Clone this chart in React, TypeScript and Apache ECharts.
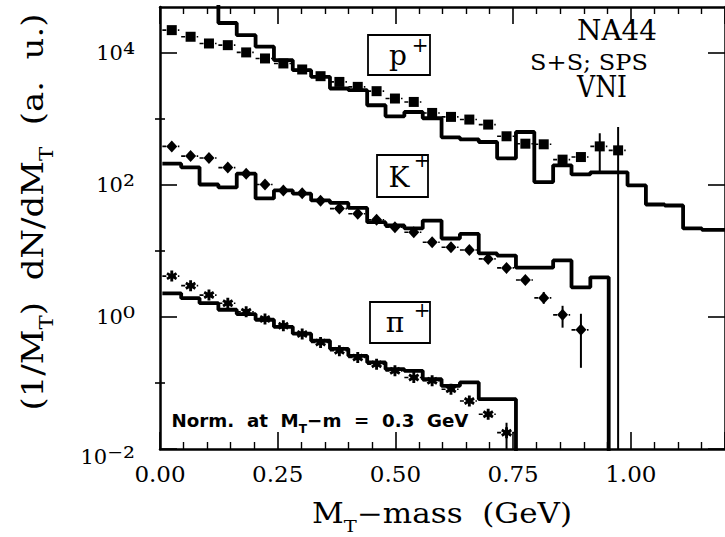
import { useEffect, useRef } from 'react';
import * as echarts from 'echarts';

// Bin edges in M_T - m (GeV), shared by the three VNI histograms
const binEdges = [
  0.005, 0.045, 0.084, 0.124, 0.163, 0.203, 0.242, 0.282, 0.321, 0.361, 0.4,
  0.44, 0.479, 0.519, 0.558, 0.598, 0.637, 0.677, 0.716, 0.756, 0.795, 0.835,
  0.874, 0.914, 0.953, 0.993, 1.032, 1.072, 1.111, 1.151, 1.19, 1.23,
];

// Bin centres of the NA44 measurements (GeV)
const pointX = [
  0.025, 0.065, 0.104, 0.144, 0.183, 0.223, 0.262, 0.302, 0.341, 0.381, 0.42,
  0.46, 0.499, 0.539, 0.578, 0.618, 0.657, 0.697, 0.736, 0.776, 0.815, 0.855,
  0.894, 0.934, 0.973,
];

// NA44 S+S data, (1/M_T) dN/dM_T in arbitrary units
const protonData = [
  22300, 17700, 14000, 13200, 10250, 8300, 6970, 5650, 4470, 3660, 3080, 2650,
  2050, 1820, 1240, 1080, 984, 826, 549, 424, 415, 243, 266, 386, 336,
];
const kaonData = [
  386, 275, 257, 184, 149, 102, 83, 75, 58, 44, 36.7, 29.8, 23, 19.3, 13.6,
  11.4, 10.4, 7.6, 5.56, 3.65, 1.95, 1.08, 0.64,
];
const pionData = [
  4.17, 2.99, 2.15, 1.62, 1.2, 0.933, 0.738, 0.552, 0.411, 0.308, 0.244, 0.193,
  0.153, 0.121, 0.108, 0.0806, 0.0535, 0.0336, 0.0177,
];

// Vertical error bars: [point index, low, high]
const protonErrors = [
  [23, 150, 610],
  [24, 0.001, 760],
];
const kaonErrors = [
  [20, 1.59, 2.4],
  [21, 0.69, 1.48],
  [22, 0.17, 1.12],
];
const pionErrors = [[18, 0.001, 0.025]];

// VNI model histograms, one value per bin
const protonModel = [
  80000, 70000, 60000, 28600, 18700, 12500, 7830, 5520, 4370, 2910, 2740, 1620,
  1100, 1280, 1030, 530, 494, 450, 254, 637, 111, 199, 145, 156, 156, 98.8,
  50.8, 49, 22, 21, 21,
];
const kaonModel = [
  211, 186, 102, 92, 149, 62.7, 83, 74, 58.5, 53.6, 45, 27.4, 24.4, 22, 29,
  15.5, 18.2, 9.2, 8.55, 5.6, 5.6, 7.2, 2.82, 4.0,
];
const pionModel = [
  2.29, 1.93, 1.62, 1.29, 1.11, 0.91, 0.71, 0.56, 0.437, 0.33, 0.258, 0.205,
  0.162, 0.153, 0.114, 0.0905, 0.102, 0.0569, 0.0569,
];

const yMajorTicks = [0.01, 1, 100, 10000];
const yMinorTicks = [0.1, 10, 1000];
const superscripts: Record<string, string> = {
  '-': '⁻', '0': '⁰', '1': '¹', '2': '²', '3': '³', '4': '⁴',
};

const X_MIN = 0;
const X_MAX = 1.2;
const Y_MIN = 0.01;
const Y_MAX = 50000;
const FLOOR = 1e-4; // below the axis, used where a histogram falls to zero
const HALF_BIN = 0.02;

const SERIF = '"DejaVu Serif", serif';
const SANS = '"DejaVu Sans", sans-serif';

function stepLine(values: number[], dropsToZero: boolean) {
  const pts: number[][] = values.map((v, i) => [binEdges[i], v]);
  pts.push([binEdges[values.length], dropsToZero ? FLOOR : values[values.length - 1]]);
  return pts;
}

function points(values: number[]) {
  return values.map((v, i) => [pointX[i], v]);
}

function errorPoints(values: number[], errors: number[][]) {
  return values.map((v, i) => {
    const e = errors.find((r) => r[0] === i);
    return [pointX[i], v, e ? e[1] : v, e ? e[2] : v];
  });
}

// asterisk marker for the pion points
function asteriskPath() {
  const L = 5;
  const W = 1.3;
  let d = '';
  for (const deg of [90, 30, 150]) {
    const a = (deg * Math.PI) / 180;
    const c = Math.cos(a);
    const s = Math.sin(a);
    const pts = [
      [-L, -W],
      [L, -W],
      [L, W],
      [-L, W],
    ].map(([u, v]) => [u * c - v * s, u * s + v * c]);
    d += 'M' + pts.map((p) => p[0].toFixed(3) + ',' + p[1].toFixed(3)).join('L') + 'Z';
  }
  return 'path://' + d;
}

export default function App() {
  const ref = useRef<HTMLDivElement>(null);

  useEffect(() => {
    const el = ref.current;
    if (!el) return;
    const chart = echarts.init(el, null, { renderer: 'svg' });

    const ctx = document.createElement('canvas').getContext('2d') as CanvasRenderingContext2D;
    const measure = (parts: Array<[string, number, string, string?]>) => {
      let w = 0;
      for (const [t, size, family, weight] of parts) {
        ctx.font = `${weight || 'normal'} ${size}px ${family}`;
        w += ctx.measureText(t).width;
      }
      return w;
    };

    const errorSeries = (data: number[][], dash: number[]) => ({
      type: 'custom',
      clip: true,
      z: 3,
      data,
      renderItem: (_p: any, api: any) => {
        const x = api.value(0);
        const y = api.value(1);
        const lo = api.value(2);
        const hi = api.value(3);
        const a = api.coord([x - HALF_BIN, y]);
        const b = api.coord([x + HALF_BIN, y]);
        const children: any[] = [
          {
            type: 'line',
            shape: { x1: a[0], y1: a[1], x2: b[0], y2: b[1] },
            style: { stroke: '#000', lineWidth: 1.6, lineDash: dash },
          },
        ];
        if (lo < y || hi > y) {
          const p = api.coord([x, hi]);
          const q = api.coord([x, lo]);
          children.push({
            type: 'line',
            shape: { x1: p[0], y1: p[1], x2: q[0], y2: q[1] },
            style: { stroke: '#000', lineWidth: 2 },
          });
        }
        return { type: 'group', children };
      },
    });

    const histSeries = (data: number[][]) => ({
      type: 'line',
      step: 'end',
      showSymbol: false,
      symbol: 'none',
      clip: true,
      z: 2,
      data,
      lineStyle: { color: '#000', width: 3.8 },
    });

    const markerSeries = (data: number[][], symbol: string, symbolSize: any) => ({
      type: 'scatter',
      z: 4,
      symbol,
      symbolSize,
      itemStyle: { color: '#000', opacity: 1 },
      data,
    });

    const axisLine = { show: true, onZero: false, lineStyle: { color: '#000', width: 2.5 } };

    const xAxisBase = {
      type: 'value',
      min: X_MIN,
      max: X_MAX,
      interval: 0.25,
      axisLine,
      axisTick: { show: true, inside: true, length: 17, lineStyle: { color: '#000', width: 1.6 } },
      minorTick: { show: true, splitNumber: 5, length: 7, lineStyle: { color: '#000', width: 1.4 } },
      splitLine: { show: false },
      minorSplitLine: { show: false },
    };

    const yLabelFormatter = (v: number) => {
      const n = Math.round(Math.log10(v));
      if (n % 2 !== 0) return '';
      const exp = String(n)
        .split('')
        .map((c) => superscripts[c] || c)
        .join('');
      return n === -2 ? `{lb|10}{ls|${exp}}` : `{b|10}{s|${exp}}`;
    };

    const yAxisBase = (position: string, major: boolean, labels: boolean) => ({
      type: 'log',
      logBase: 10,
      min: Y_MIN,
      max: Y_MAX,
      position,
      axisLine: major ? axisLine : { show: false },
      axisTick: {
        show: true,
        inside: true,
        length: major ? 17 : 5,
        customValues: major ? yMajorTicks : yMinorTicks,
        lineStyle: { color: '#000', width: 1.6 },
      },
      splitLine: { show: false },
      axisLabel: labels
        ? {
            show: true,
            customValues: yMajorTicks,
            margin: 25,
            color: '#000',
            formatter: yLabelFormatter,
            rich: {
              b: { fontFamily: SERIF, fontSize: 21, color: '#000' },
              s: { fontFamily: SERIF, fontSize: 30, color: '#000' },
              lb: { fontFamily: SERIF, fontSize: 21, color: '#000', padding: [16, 0, 0, 0] },
              ls: { fontFamily: SERIF, fontSize: 30, color: '#000', padding: [16, 0, 0, 0] },
            },
          }
        : { show: false },
    });

    // titles and notes, stretched horizontally to the width of the original lettering
    const yTitleParts: Array<[string, number, string]> = [
      ['(1/M', 30, SERIF],
      ['T', 19, SERIF],
      [')  dN/dM', 30, SERIF],
      ['T', 19, SERIF],
      ['  (a.  u.)', 30, SERIF],
    ];
    const xTitleParts: Array<[string, number, string]> = [
      ['M', 27, SERIF],
      ['T', 17, SERIF],
      ['−mass  (GeV)', 27, SERIF],
    ];
    const normParts: Array<[string, number, string, string]> = [
      ['Norm.  at  M', 18, SANS, 'bold'],
      ['T', 12, SANS, 'bold'],
      ['−m  =  0.3  GeV', 18, SANS, 'bold'],
    ];

    const plain = (text: string, x: number, y: number, size: number, width: number, family = SERIF) => ({
      type: 'text',
      x,
      y,
      scaleX: width / measure([[text, size, family]]),
      style: { text, fontFamily: family, fontSize: size, fill: '#000', align: 'center', verticalAlign: 'middle' },
    });

    const boxLabel = (
      rx: number, ry: number, rw: number, rh: number,
      label: string, lx: number, ly: number, px: number, py: number,
    ) => [
      {
        type: 'rect',
        shape: { x: rx, y: ry, width: rw, height: rh },
        style: { fill: 'none', stroke: '#000', lineWidth: 1.8 },
      },
      {
        type: 'text',
        x: lx,
        y: ly,
        style: { text: label, fontFamily: SERIF, fontSize: 28, fill: '#000', align: 'center', verticalAlign: 'middle' },
      },
      {
        type: 'text',
        x: px,
        y: py,
        style: { text: '+', fontFamily: SERIF, fontSize: 20, fill: '#000', align: 'center', verticalAlign: 'middle' },
      },
    ];

    const option: any = {
      animation: false,
      backgroundColor: '#fff',
      grid: { left: 160, top: 7, width: 567, height: 442, containLabel: false },
      xAxis: [
        {
          ...xAxisBase,
          position: 'bottom',
          axisLabel: {
            show: true,
            margin: 13,
            color: '#000',
            fontFamily: SERIF,
            fontSize: 23,
            showMaxLabel: false,
            formatter: (v: number) => v.toFixed(2),
          },
        },
        { ...xAxisBase, position: 'top', axisLabel: { show: false } },
      ],
      yAxis: [
        yAxisBase('left', true, true),
        yAxisBase('left', false, false),
        yAxisBase('right', true, false),
        yAxisBase('right', false, false),
      ],
      series: [
        histSeries(stepLine(protonModel, false)),
        histSeries(stepLine(kaonModel, true)),
        histSeries(stepLine(pionModel, true)),
        errorSeries(errorPoints(protonData, protonErrors), [4, 2, 1.5, 2]),
        errorSeries(errorPoints(kaonData, kaonErrors), [4, 2, 1.5, 2]),
        errorSeries(errorPoints(pionData, pionErrors), [4, 2, 1.5, 2]),
        markerSeries(points(protonData), 'rect', 10),
        markerSeries(points(kaonData), 'diamond', [11, 12]),
        markerSeries(points(pionData), asteriskPath(), 11),
      ],
      graphic: [
        {
          type: 'text',
          x: 33,
          y: 212,
          rotation: Math.PI / 2,
          scaleX: 397 / measure(yTitleParts),
          style: {
            text: '{m|(1/M}{s|T}{m|)  dN/dM}{s|T}{m|  (a.  u.)}',
            align: 'center',
            verticalAlign: 'middle',
            fill: '#000',
            rich: {
              m: { fontFamily: SERIF, fontSize: 30, lineHeight: 30, verticalAlign: 'middle', fill: '#000' },
              s: { fontFamily: SERIF, fontSize: 19, lineHeight: 19, verticalAlign: 'top', padding: [19, 0, 0, 0], fill: '#000' },
            },
          },
        },
        {
          type: 'text',
          x: 442,
          y: 514,
          scaleX: 260 / measure(xTitleParts),
          style: {
            text: '{m|M}{s|T}{m|−mass  (GeV)}',
            align: 'center',
            verticalAlign: 'middle',
            fill: '#000',
            rich: {
              m: { fontFamily: SERIF, fontSize: 27, lineHeight: 27, verticalAlign: 'middle', fill: '#000' },
              s: { fontFamily: SERIF, fontSize: 17, lineHeight: 17, verticalAlign: 'top', padding: [17, 0, 0, 0], fill: '#000' },
            },
          },
        },
        {
          type: 'text',
          x: 320,
          y: 421,
          scaleX: 297 / measure(normParts),
          style: {
            text: '{m|Norm.  at  M}{s|T}{m|−m  =  0.3  GeV}',
            align: 'center',
            verticalAlign: 'middle',
            fill: '#000',
            rich: {
              m: { fontFamily: SANS, fontWeight: 'bold', fontSize: 18, lineHeight: 18, verticalAlign: 'middle', fill: '#000' },
              s: { fontFamily: SANS, fontWeight: 'bold', fontSize: 12, lineHeight: 12, verticalAlign: 'top', padding: [11, 0, 0, 0], fill: '#000' },
            },
          },
        },
        plain('NA44', 617, 30, 28, 80),
        plain('S+S; SPS', 589, 62, 22, 118),
        plain('VNI', 602, 87, 29, 50),
        ...boxLabel(368, 35, 62, 40, 'p', 398, 55, 420, 45),
        ...boxLabel(377, 155, 51, 42, 'K', 399, 177, 422, 160),
        ...boxLabel(370, 302, 60, 41, 'π', 395, 322, 422, 310),
      ],
    };

    chart.setOption(option);
    return () => chart.dispose();
  }, []);

  return (
    <div
      ref={ref}
      style={{ position: 'fixed', left: 0, top: 0, width: 725, height: 537, background: '#fff' }}
    />
  );
}
